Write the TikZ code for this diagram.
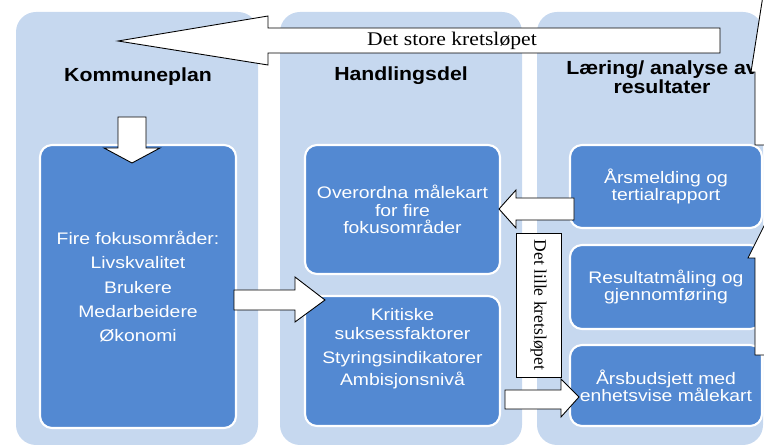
\documentclass[tikz,border=0pt]{standalone}
\usepackage{fontspec}
\setmainfont{Liberation Serif}
\setsansfont{Liberation Sans}
\newfontfamily\boxfont[FakeStretch=1.16]{Liberation Sans}
\newfontfamily\titlefont[FakeStretch=1.12]{Liberation Sans}
\newfontfamily\storefont[FakeStretch=1.12]{Liberation Serif}
\definecolor{bgblue}{RGB}{198,216,239}
\definecolor{boxblue}{RGB}{83,137,210}

\begin{document}
\begin{tikzpicture}[x=0.2mm, y=-0.2mm,
    col/.style={fill=bgblue, rounded corners=4mm},
    box/.style={fill=boxblue, draw=white, line width=1.2pt, rounded corners=2.4mm,
                text=white, align=center, inner sep=0pt,
                font=\boxfont\fontsize{9.5}{9.8}\selectfont},
    title/.style={font=\titlefont\bfseries\fontsize{10.8}{9.5}\selectfont, align=center},
    fat/.style={fill=white, draw=black, line width=0.5pt}]
      \useasboundingbox (0,0) rectangle (764,447);

      % the three columns
      \fill [col] (16,12)  rectangle (258,445);
      \fill [col] (280,12) rectangle (522,445);
      \fill [col] (537,12) rectangle (763,445);

      % column titles
      \node (K) [title] at (138,77) {Kommuneplan};
      \node (H) [title] at (401,76) {Handlingsdel};
      \node (L) [title] at (662,77) {Læring/ analyse av\\resultater};

      % boxes
      \node (F)  [box, minimum width=39.2mm, minimum height=56.6mm,
                  font=\boxfont\fontsize{9.5}{13.9}\selectfont] at (138,286.5)
                 {Fire fokusområder:\\Livskvalitet\\Brukere\\Medarbeidere\\Økonomi};
      \node (O)  [box, minimum width=39mm, minimum height=25.8mm] at (402.5,209.5)
                 {Overordna målekart\\for fire\\fokusområder};
      \node (KS) [box, minimum width=39mm, minimum height=26mm] at (402.5,361) {};
      \node (KT) [align=center, text=white, font=\boxfont\fontsize{9.5}{10.6}\selectfont]
                 at (402.5,349)
                 {Kritiske\\suksessfaktorer\\[2.8pt]Styringsindikatorer\\[2.2pt]Ambisjonsnivå};
      \node (A)  [box, minimum width=38.4mm, minimum height=16.6mm] at (666,186.5)
                 {Årsmelding og\\tertialrapport};
      \node (R)  [box, minimum width=38.4mm, minimum height=16.8mm] at (666,287)
                 {Resultatmåling og\\gjennomføring};
      \node (B)  [box, minimum width=38.4mm, minimum height=16.2mm] at (666,385.5)
                 {Årsbudsjett med\\enhetsvise målekart};

      % det store kretsløpet
      \draw [fat] (118,41) -- (268,16) -- (268,28) -- (720,28) -- (720,53)
                  -- (268,53) -- (268,65) -- cycle;
      \node (S) [font=\storefont\fontsize{11}{12}\selectfont] at (452,41) {Det store kretsløpet};

      % block arrows between the boxes
      \draw [fat] (118,117) -- (146,117) -- (146,148) -- (160,148) -- (132,163)
                  -- (104,148) -- (118,148) -- cycle;
      \draw [fat] (234,290) -- (295,290) -- (295,277) -- (325,300) -- (295,322)
                  -- (295,310) -- (234,310) -- cycle;
      \draw [fat] (499,209) -- (516,190) -- (516,198) -- (574,198) -- (574,220)
                  -- (516,220) -- (516,228) -- cycle;
      \draw [fat] (505,390) -- (561,390) -- (561,379) -- (579,397) -- (561,417)
                  -- (561,409) -- (505,409) -- cycle;

      % det lille kretsløpet
      \node (LK) [fat, rotate=-90, minimum width=28.8mm, minimum height=9mm, inner sep=0pt,
                  font=\rmfamily\fontsize{10}{10}\selectfont] at (538.5,305) {Det lille kretsløpet};

      % arrows going up at the right edge
      \begin{scope}
        \clip (0,0) rectangle (764,447);
        \draw [fat] (755,145) -- (755,72) -- (751,72) -- (767,-30) -- (800,-30)
                    -- (800,145) -- cycle;
        \draw [fat] (755,355) -- (755,258) -- (748,258) -- (772,210) -- (800,210)
                    -- (800,355) -- cycle;
      \end{scope}
\end{tikzpicture}
\end{document}
